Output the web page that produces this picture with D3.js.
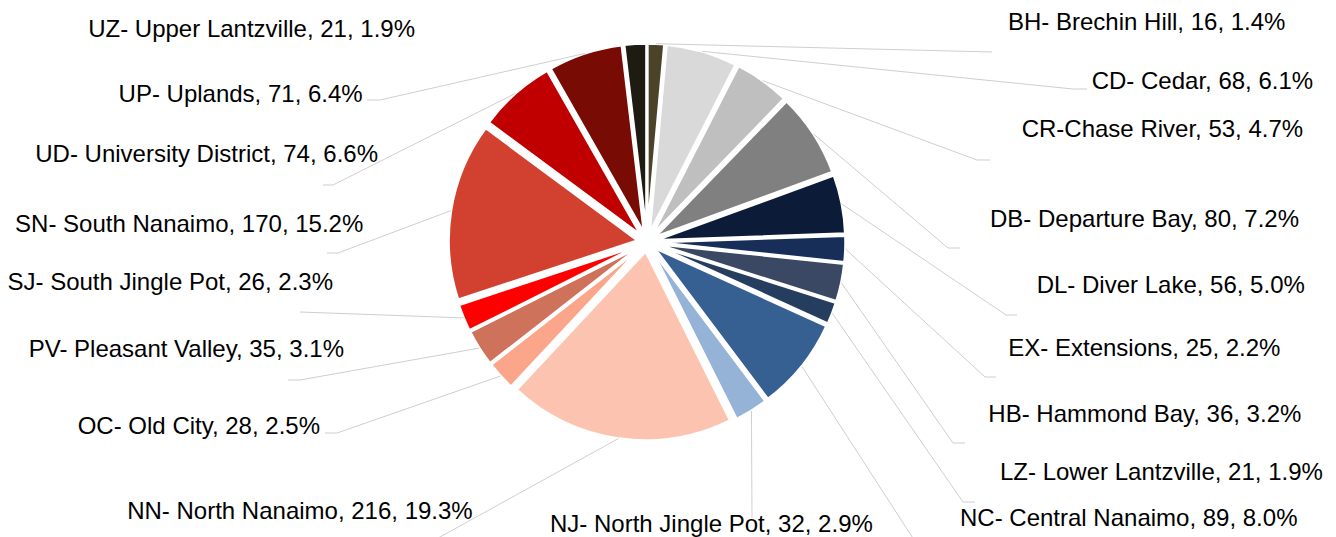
<!DOCTYPE html>
<html><head><meta charset="utf-8">
<script src="https://cdn.jsdelivr.net/npm/d3@7"></script>
<style>body{margin:0;background:#fff;overflow:hidden}</style>
</head><body><svg id="c" width="1336" height="537"></svg>
<script>
// ---- data ----
const categories = ["BH- Brechin Hill","CD- Cedar","CR-Chase River","DB- Departure Bay","DL- Diver Lake","EX- Extensions","HB- Hammond Bay","LZ- Lower Lantzville","NC- Central Nanaimo","NJ- North Jingle Pot","NN- North Nanaimo","OC- Old City","PV- Pleasant Valley","SJ- South Jingle Pot","SN- South Nanaimo","UD- University District","UP- Uplands","UZ- Upper Lantzville"];
const values = [16,68,53,80,56,25,36,21,89,32,216,28,35,26,170,74,71,21];
const colors = ["#4a4329","#d9d9d9","#bfbfbf","#808080","#0c1c38","#172f58","#3a4863","#253d5f","#366092","#95b3d7","#fcc4b0","#fba58a","#cf725c","#ff0000","#d24130","#c00000","#780c05","#1e1c12"];

// ---- layout (label anchor + leader route) ----
const labelPos = [
  [1008,30,"start"],[1091.7,89.3,"start"],[1021.7,136.7,"start"],[990,226.7,"start"],
  [1036.7,293.3,"start"],[1008.3,355.7,"start"],[988.3,421.7,"start"],[1000,480,"start"],
  [960,525.7,"start"],[550,531.7,"start"],[472.7,519.3,"end"],[320,434,"end"],
  [344,357.3,"end"],[333,290,"end"],[363.3,232.3,"end"],[378,162.3,"end"],
  [362.7,101.7,"end"],[415,37.3,"end"]];
const leaderRoute = [
  [[992,52]],
  [[1073,89],[1087,89]],
  [[977,160],[990,160]],
  [[948,248],[960,248]],
  [[1006,315],[1017,315]],
  [[985,377],[996,377]],
  [[953,443],[965,443]],
  [[963,502],[975,502]],
  [[940,580]],
  [[752,518]],
  [[420,548]],
  [[337,433],[325,433]],
  [[300,380],[288,380]],
  [[300,312]],
  [[338,253],[327,253]],
  [[333,185],[323,185]],
  [[380,100],[367,100]],
  null];

const W = 1336, H = 537, cx = 647, cy = 242, R = 189, explode = 9.5;
const total = d3.sum(values);
const pct = d3.format(".1%");

const svg = d3.select("#c");
const pie = d3.pie().value(d => d).sort(null);
const arcs = pie(values);
const arc = d3.arc().innerRadius(0).outerRadius(R);

const g = svg.append("g").attr("transform", `translate(${cx},${cy})`);
const mid = a => (a.startAngle + a.endAngle) / 2;

g.selectAll("path.slice").data(arcs).join("path")
  .attr("class","slice")
  .attr("d", arc)
  .attr("fill", (d,i) => colors[i])
  .attr("stroke", "#fff").attr("stroke-width", 2.5).attr("stroke-linejoin","round")
  .attr("transform", d => `translate(${explode*Math.sin(mid(d))},${-explode*Math.cos(mid(d))})`);

// leader lines
const line = d3.line();
svg.append("g").selectAll("path").data(arcs.filter((d,i)=>leaderRoute[i]))
  .join("path")
  .attr("fill","none").attr("stroke","#cfcfcf").attr("stroke-width",1)
  .attr("d", d => {
    const m = mid(d), rr = R + explode;
    const start = [cx + rr*Math.sin(m), cy - rr*Math.cos(m)];
    return line([start, ...leaderRoute[d.index]]);
  });

// labels
svg.append("g").selectAll("text").data(arcs).join("text")
  .attr("x", (d,i) => labelPos[i][0]).attr("y", (d,i) => labelPos[i][1])
  .attr("text-anchor", (d,i) => labelPos[i][2])
  .attr("font-family", "Liberation Sans, Arial, sans-serif")
  .attr("font-size", 24).attr("fill", "#000")
  .text((d,i) => `${categories[i]}, ${values[i]}, ${pct(values[i]/total)}`);
</script></body></html>
